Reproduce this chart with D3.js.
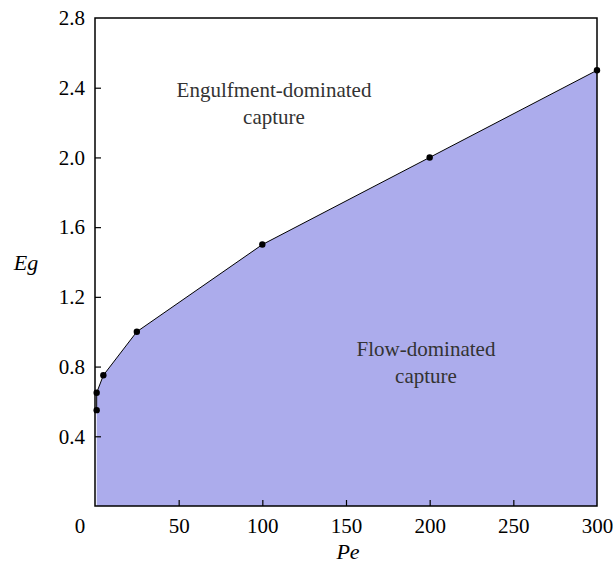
<!DOCTYPE html>
<html>
<head>
<meta charset="utf-8">
<script src="https://cdn.jsdelivr.net/npm/d3@7"></script>
</head>
<body style="margin:0; background:#fff">
<div id="chart"></div>
<script>
// boundary between capture regimes
const peValues = [1, 1, 5, 25, 100, 200, 300];
const egValues = [0.55, 0.65, 0.75, 1.0, 1.5, 2.0, 2.5];
const xTicks = [50, 100, 150, 200, 250, 300];
const yTicks = [0.4, 0.8, 1.2, 1.6, 2.0, 2.4, 2.8];

const FONT = 'Liberation Serif';
const totalW = 613, totalH = 565;
const margin = { top: 18, right: 16, bottom: 59, left: 95 };
const width = totalW - margin.left - margin.right;
const height = totalH - margin.top - margin.bottom;

const svg = d3.select('#chart').append('svg')
  .attr('width', totalW)
  .attr('height', totalH)
  .attr('font-family', FONT);

const g = svg.append('g')
  .attr('transform', `translate(${margin.left},${margin.top})`);

const x = d3.scaleLinear().domain([0, 300]).range([0, width]);
const y = d3.scaleLinear().domain([0, 2.8]).range([height, 0]);

const pts = peValues.map((p, i) => ({ pe: p, eg: egValues[i] }));

// shaded flow-dominated region
const area = d3.area()
  .x(d => x(d.pe))
  .y0(y(0))
  .y1(d => y(d.eg));
g.append('path')
  .datum(pts)
  .attr('d', area)
  .attr('fill', '#acacec');

g.append('path')
  .datum(pts)
  .attr('d', d3.line().x(d => x(d.pe)).y(d => y(d.eg)))
  .attr('fill', 'none')
  .attr('stroke', '#000')
  .attr('stroke-width', 1);

g.selectAll('.pt').data(pts)
  .join('circle')
  .attr('class', 'pt')
  .attr('cx', d => x(d.pe))
  .attr('cy', d => y(d.eg))
  .attr('r', 3.2)
  .attr('fill', '#000');

// axes with inward ticks
const xAxis = g.append('g')
  .attr('transform', `translate(0,${height})`)
  .call(d3.axisBottom(x).tickValues(xTicks).tickSizeInner(-6).tickSizeOuter(0).tickPadding(12));
const yAxis = g.append('g')
  .call(d3.axisLeft(y).tickValues(yTicks).tickSizeInner(-6).tickSizeOuter(0).tickPadding(10)
    .tickFormat(d3.format('.1f')));

[xAxis, yAxis].forEach(ax => {
  ax.attr('font-family', FONT).attr('font-size', 21);
  ax.select('.domain').remove();
  ax.selectAll('line').attr('stroke', '#000').attr('stroke-width', 1.2);
  ax.selectAll('text')
    .attr('fill', '#000')
    .attr('font-family', FONT)
    .attr('font-size', 21);
});
yAxis.selectAll('.tick').filter(d => d === 2.8).select('line').remove();
xAxis.selectAll('.tick').filter(d => d === 300).select('line').remove();

// origin label
g.append('text')
  .attr('x', -15)
  .attr('y', height + 27)
  .attr('text-anchor', 'middle')
  .attr('font-family', FONT)
  .attr('font-size', 21)
  .text('0');

// frame
g.append('rect')
  .attr('width', width)
  .attr('height', height)
  .attr('fill', 'none')
  .attr('stroke', '#000')
  .attr('stroke-width', 1.5);

// axis titles
svg.append('text')
  .attr('x', 348)
  .attr('y', 559)
  .attr('text-anchor', 'middle')
  .attr('font-family', FONT)
  .attr('font-size', 22)
  .attr('font-style', 'italic')
  .text('Pe');
svg.append('text')
  .attr('x', 26)
  .attr('y', 270)
  .attr('text-anchor', 'middle')
  .attr('font-family', FONT)
  .attr('font-size', 22)
  .attr('font-style', 'italic')
  .text('Eg');

// region labels
const labels = [
  { lines: ['Engulfment-dominated', 'capture'], cx: 274, y0: 97 },
  { lines: ['Flow-dominated', 'capture'], cx: 426, y0: 356 }
];
labels.forEach(l => {
  l.lines.forEach((t, i) => {
    svg.append('text')
      .attr('x', l.cx)
      .attr('y', l.y0 + i * 26.5)
      .attr('text-anchor', 'middle')
      .attr('font-family', FONT)
      .attr('font-size', 21)
      .attr('fill', '#333')
      .text(t);
  });
});
</script>
</body>
</html>
